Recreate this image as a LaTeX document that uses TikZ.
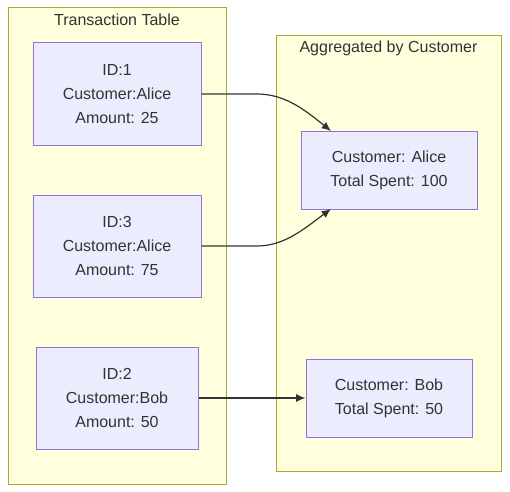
\documentclass[tikz,border=0pt]{standalone}
\usepackage{fontspec}
\setmainfont{Liberation Sans}
\usetikzlibrary{arrows.meta}
\definecolor{clfill}{HTML}{FFFFDE}
\definecolor{clline}{HTML}{AAAA33}
\definecolor{ndfill}{HTML}{ECECFF}
\definecolor{ndline}{HTML}{9370DB}
\definecolor{txt}{HTML}{333333}
\begin{document}
\begin{tikzpicture}[x=0.75pt,y=-0.75pt,
  cluster/.style={draw=clline,fill=clfill,line width=0.75pt},
  box/.style={draw=ndline,fill=ndfill,line width=0.75pt,align=center,text=txt,
    font=\fontsize{12}{18}\selectfont,inner sep=0pt},
  ttl/.style={text=txt,font=\fontsize{12}{14}\selectfont},
  conn/.style={draw=txt,line width=0.9pt,-{Latex[length=7pt,width=6pt]}}]
\useasboundingbox (0,0) rectangle (510,492);
\fill[white] (0,0) rectangle (510,492);
\draw[cluster] (8,8) rectangle (226,484);
\draw[cluster] (276,36) rectangle (501,471);
\node[ttl] (t1) at (117,20) {Transaction Table};
\node[ttl] (t2) at (388.5,48) {Aggregated by Customer};
\node[box,minimum width=168*0.75pt,minimum height=102*0.75pt] (n1) at (117,94) {ID:1\\Customer:Alice\\Amount: 25};
\node[box,minimum width=168*0.75pt,minimum height=102*0.75pt] (n3) at (117,246) {ID:3\\Customer:Alice\\Amount: 75};
\node[box,minimum width=162*0.75pt,minimum height=102*0.75pt] (n2) at (117,398) {ID:2\\Customer:Bob\\Amount: 50};
\node[box,minimum width=176*0.75pt,minimum height=78*0.75pt] (a) at (389,170) {Customer: Alice\\Total Spent: 100};
\node[box,minimum width=166*0.75pt,minimum height=78*0.75pt] (b) at (389,398) {Customer: Bob\\Total Spent: 50};
\coordinate (ain) at (331,131);
\coordinate (ain2) at (331,209);
\draw[conn] (n1.east) -- (257,94) .. controls (285,94) and (305,110) .. (ain);
\draw[conn] (n3.east) -- (257,246) .. controls (285,246) and (305,228) .. (ain2);
\draw[conn] (n2.east) -- (b.west);
\end{tikzpicture}
\end{document}
